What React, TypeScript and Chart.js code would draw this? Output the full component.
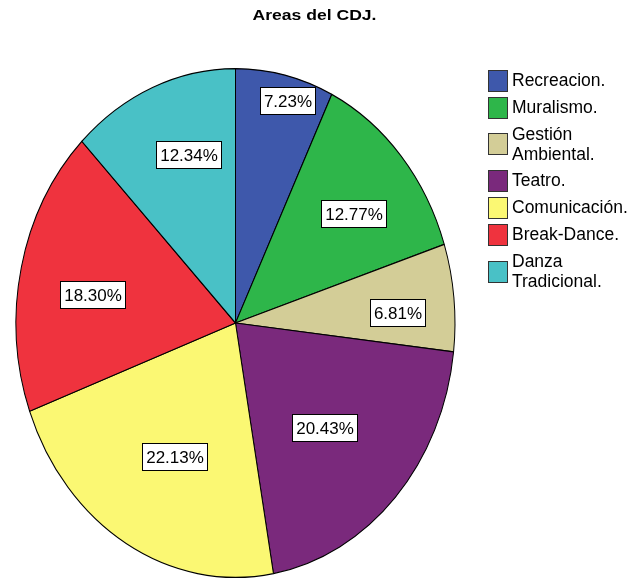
import { useEffect, useRef } from 'react';
import { Chart, registerables } from 'chart.js';

Chart.register(...registerables);

const titleText = 'Areas del CDJ.';
const categories = [
  'Recreacion.',
  'Muralismo.',
  'Gestión Ambiental.',
  'Teatro.',
  'Comunicación.',
  'Break-Dance.',
  'Danza Tradicional.',
];
const percentages = [7.23, 12.77, 6.81, 20.43, 22.13, 18.3, 12.34];
const sliceColors = ['#3e58ab', '#2eb64a', '#d3cd97', '#7a297c', '#fbf873', '#ef333e', '#49c1c6'];

const FONT = '"Liberation Sans", Arial, Helvetica, sans-serif';

function wrapText(ctx: CanvasRenderingContext2D, text: string, maxWidth: number): string[] {
  const words = text.split(' ');
  const lines: string[] = [];
  let cur = '';
  for (const w of words) {
    const test = cur ? cur + ' ' + w : w;
    if (cur && ctx.measureText(test).width > maxWidth) {
      lines.push(cur);
      cur = w;
    } else {
      cur = test;
    }
  }
  if (cur) lines.push(cur);
  return lines;
}

const spssPiePlugin = {
  id: 'spssPie',
  beforeDatasetsDraw(chart: any, _args: any, opts: any) {
    const arc = chart.getDatasetMeta(0).data[0];
    const ctx = chart.ctx;
    ctx.save();
    ctx.translate(arc.x, arc.y);
    ctx.scale(1, opts.scaleY);
    ctx.translate(-arc.x, -arc.y);
  },
  afterDatasetsDraw(chart: any, _args: any, opts: any) {
    const ctx = chart.ctx as CanvasRenderingContext2D;
    ctx.restore();
    const meta = chart.getDatasetMeta(0);
    const values = chart.data.datasets[0].data as number[];
    ctx.save();
    ctx.font = `17px ${FONT}`;
    ctx.textAlign = 'center';
    ctx.textBaseline = 'middle';
    meta.data.forEach((arc: any, i: number) => {
      const p = arc.getProps(['x', 'y', 'startAngle', 'endAngle', 'outerRadius'], true);
      const mid = (p.startAngle + p.endAngle) / 2 + (opts.labelAngleShift[i] * Math.PI) / 180;
      const f = opts.labelRadius[i];
      const cx = p.x + Math.cos(mid) * p.outerRadius * f;
      const cy = p.y + Math.sin(mid) * p.outerRadius * f * opts.scaleY;
      const text = values[i].toFixed(2) + '%';
      const w = Math.round(ctx.measureText(text).width + 7);
      const h = 27;
      const bx = Math.round(cx - w / 2) + 0.5;
      const by = Math.round(cy - h / 2) + 0.5;
      ctx.fillStyle = '#ffffff';
      ctx.fillRect(bx, by, w, h);
      ctx.strokeStyle = '#000000';
      ctx.lineWidth = 1;
      ctx.strokeRect(bx, by, w, h);
      ctx.fillStyle = '#000000';
      ctx.fillText(text, bx + w / 2, by + h / 2 + 1);
    });
    ctx.restore();
  },
  afterDraw(chart: any, _args: any, opts: any) {
    const ctx = chart.ctx as CanvasRenderingContext2D;
    // Title
    ctx.save();
    ctx.font = `bold 15px ${FONT}`;
    ctx.textAlign = 'center';
    ctx.textBaseline = 'middle';
    ctx.fillStyle = '#000000';
    ctx.translate(opts.titleX, opts.titleY);
    ctx.scale(1.17, 1);
    ctx.fillText(titleText, 0, 0);
    ctx.restore();

    // Legend
    ctx.save();
    ctx.font = `17.5px ${FONT}`;
    ctx.textAlign = 'left';
    ctx.textBaseline = 'middle';
    const labels = chart.data.labels as string[];
    const colors = chart.data.datasets[0].backgroundColor as string[];
    let y = opts.legendTop;
    labels.forEach((lab, i) => {
      const lines = wrapText(ctx, lab, 122);
      const itemH = lines.length === 1 ? 27 : 46.5;
      const centerY = y + itemH / 2;
      const bw = 19;
      const bh = 21;
      const bx = Math.round(opts.legendX) + 0.5;
      const by = Math.round(centerY - bh / 2) + 0.5;
      ctx.fillStyle = colors[i];
      ctx.fillRect(bx, by, bw, bh);
      ctx.strokeStyle = '#333333';
      ctx.lineWidth = 1;
      ctx.strokeRect(bx, by, bw, bh);
      ctx.fillStyle = '#000000';
      const lh = 20;
      lines.forEach((ln, k) => {
        const ly = centerY + (k - (lines.length - 1) / 2) * lh + 1;
        ctx.fillText(ln, opts.legendX + 24, ly);
      });
      y += itemH;
    });
    ctx.restore();
  },
};

export default function App() {
  const canvasRef = useRef<HTMLCanvasElement | null>(null);

  useEffect(() => {
    document.body.style.margin = '0';
    const canvas = canvasRef.current;
    if (!canvas) return;
    const chart = new Chart(canvas, {
      type: 'pie',
      data: {
        labels: categories,
        datasets: [
          {
            data: percentages,
            backgroundColor: sliceColors,
            borderColor: '#000000',
            borderWidth: 1,
            hoverOffset: 0,
            offset: 0,
            clip: false as any,
          } as any,
        ],
      },
      options: {
        responsive: false,
        animation: false,
        events: [],
        layout: {
          padding: { left: 15.5, right: 185.5, top: 103, bottom: 36 },
        },
        plugins: {
          legend: { display: false },
          title: { display: false },
          tooltip: { enabled: false },
          spssPie: {
            scaleY: 255 / 220,
            labelRadius: [0.907, 0.69, 0.74, 0.579, 0.595, 0.662, 0.695],
            labelAngleShift: [2.1, 2.4, 2.7, 2.0, -1.8, -2.8, 4.3],
            titleX: 314.5,
            titleY: 16,
            legendX: 488,
            legendTop: 66.5,
          },
        } as any,
      },
      plugins: [spssPiePlugin as any],
    });
    return () => chart.destroy();
  }, []);

  return (
    <div style={{ width: 641, height: 579 }}>
      <canvas ref={canvasRef} width={641} height={579} style={{ display: 'block' }} />
    </div>
  );
}
